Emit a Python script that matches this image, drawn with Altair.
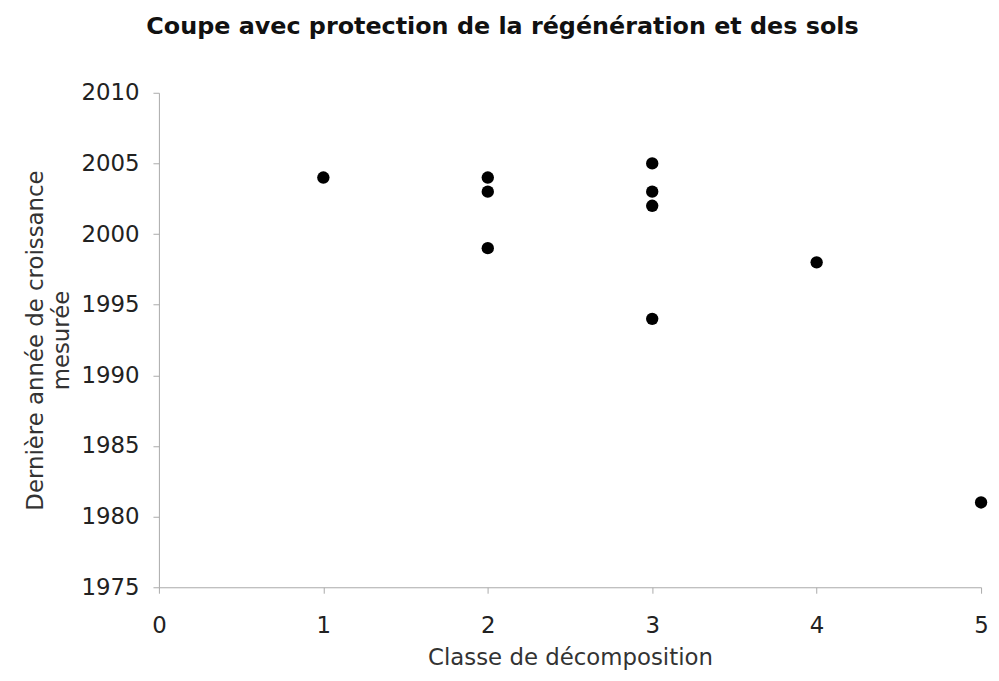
import altair as alt
import pandas as pd

classe = [1, 2, 2, 2, 3, 3, 3, 3, 4, 5]
annee = [2004, 2004, 2003, 1999, 2005, 2003, 2002, 1994, 1998, 1981]

df = pd.DataFrame({"classe": classe, "annee": annee})

FONT = "DejaVu Sans"
FS = 23

chart = alt.Chart(df).mark_circle(size=155, color="black", opacity=1).encode(
    x=alt.X("classe:Q",
            scale=alt.Scale(domain=[0, 5], nice=False, zero=False),
            axis=alt.Axis(values=[0, 1, 2, 3, 4, 5], title="Classe de décomposition",
                          grid=False, format="d", labelFontSize=FS, titleFontSize=FS,
                          labelPadding=22, titlePadding=9, tickSize=6, labelFlush=False,
                          domainColor="#aaaaaa", tickColor="#aaaaaa",
                          labelColor="#222222", titleColor="#333333",
                          titleFontWeight="normal", labelFont=FONT, titleFont=FONT)),
    y=alt.Y("annee:Q",
            scale=alt.Scale(domain=[1975, 2010], nice=False, zero=False),
            axis=alt.Axis(values=list(range(1975, 2011, 5)),
                          title=["Dernière année de croissance", "mesurée"],
                          grid=False, format="d", labelFontSize=FS, titleFontSize=FS,
                          titleLineHeight=26, labelFlush=False,
                          labelPadding=14, titlePadding=8, tickSize=6,
                          domainColor="#aaaaaa", tickColor="#aaaaaa",
                          labelColor="#222222", titleColor="#333333",
                          titleFontWeight="normal", labelFont=FONT, titleFont=FONT)),
).properties(
    width=828,
    height=498,
    title=alt.TitleParams("Coupe avec protection de la régénération et des sols",
                          font=FONT, fontSize=24, fontWeight="bold", color="#111111",
                          anchor="middle", dx=-68, offset=24, baseline="alphabetic"),
    autosize=alt.AutoSizeParams(type="none"),
    padding={"left": 152, "top": 83, "right": 10, "bottom": 88},
).configure_view(stroke=None)

chart.save("out.html", embed_options={"renderer": "svg", "actions": False})
